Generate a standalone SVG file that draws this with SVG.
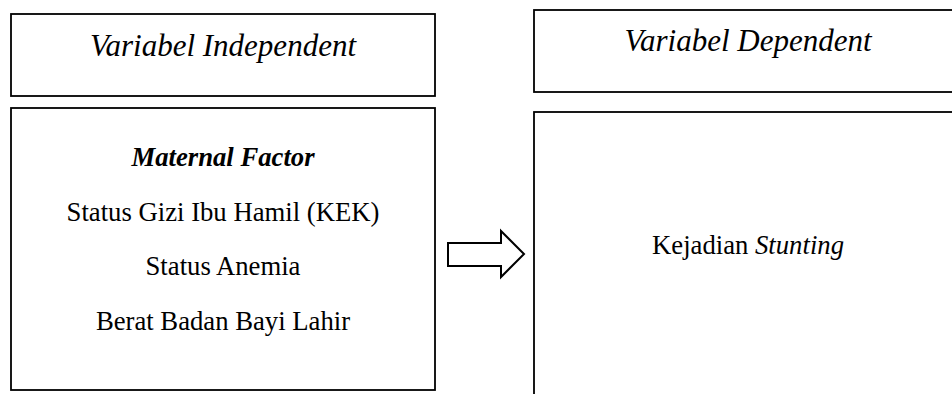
<svg xmlns="http://www.w3.org/2000/svg" width="952" height="394" viewBox="0 0 952 394">
<style>
.box{fill:#fff;stroke:#000;stroke-width:1.8}
.t{font-family:"Liberation Serif","Times New Roman",serif;fill:#000;text-anchor:middle}
.title{font-size:31px;font-style:italic}
.body{font-size:26.7px}
.arrow{fill:#fff;stroke:#000;stroke-width:2;stroke-linejoin:miter}
</style>
<rect width="952" height="394" fill="#fff"/>
<g id="independent-header">
<rect class="box" x="11" y="14" width="424" height="82"/>
<text class="t title" x="223" y="56">Variabel Independent</text>
</g>
<g id="maternal-factor">
<rect class="box" x="11" y="108" width="424" height="282"/>
<text class="t body" x="223" y="166" font-weight="bold" font-style="italic">Maternal Factor</text>
<text class="t body" x="223" y="221">Status Gizi Ibu Hamil (KEK)</text>
<text class="t body" x="223" y="275">Status Anemia</text>
<text class="t body" x="223" y="330">Berat Badan Bayi Lahir</text>
</g>
<g id="dependent-header">
<rect class="box" x="534" y="10" width="428" height="82"/>
<text class="t title" x="748" y="51">Variabel Dependent</text>
</g>
<g id="stunting">
<rect class="box" x="534" y="112" width="428" height="300"/>
<text class="t body" x="748" y="254">Kejadian <tspan font-style="italic">Stunting</tspan></text>
</g>
<g id="connectors">
<polygon class="arrow" points="448,243 501,243 501,231 524,254 501,277 501,266 448,266"/>
</g>
</svg>
